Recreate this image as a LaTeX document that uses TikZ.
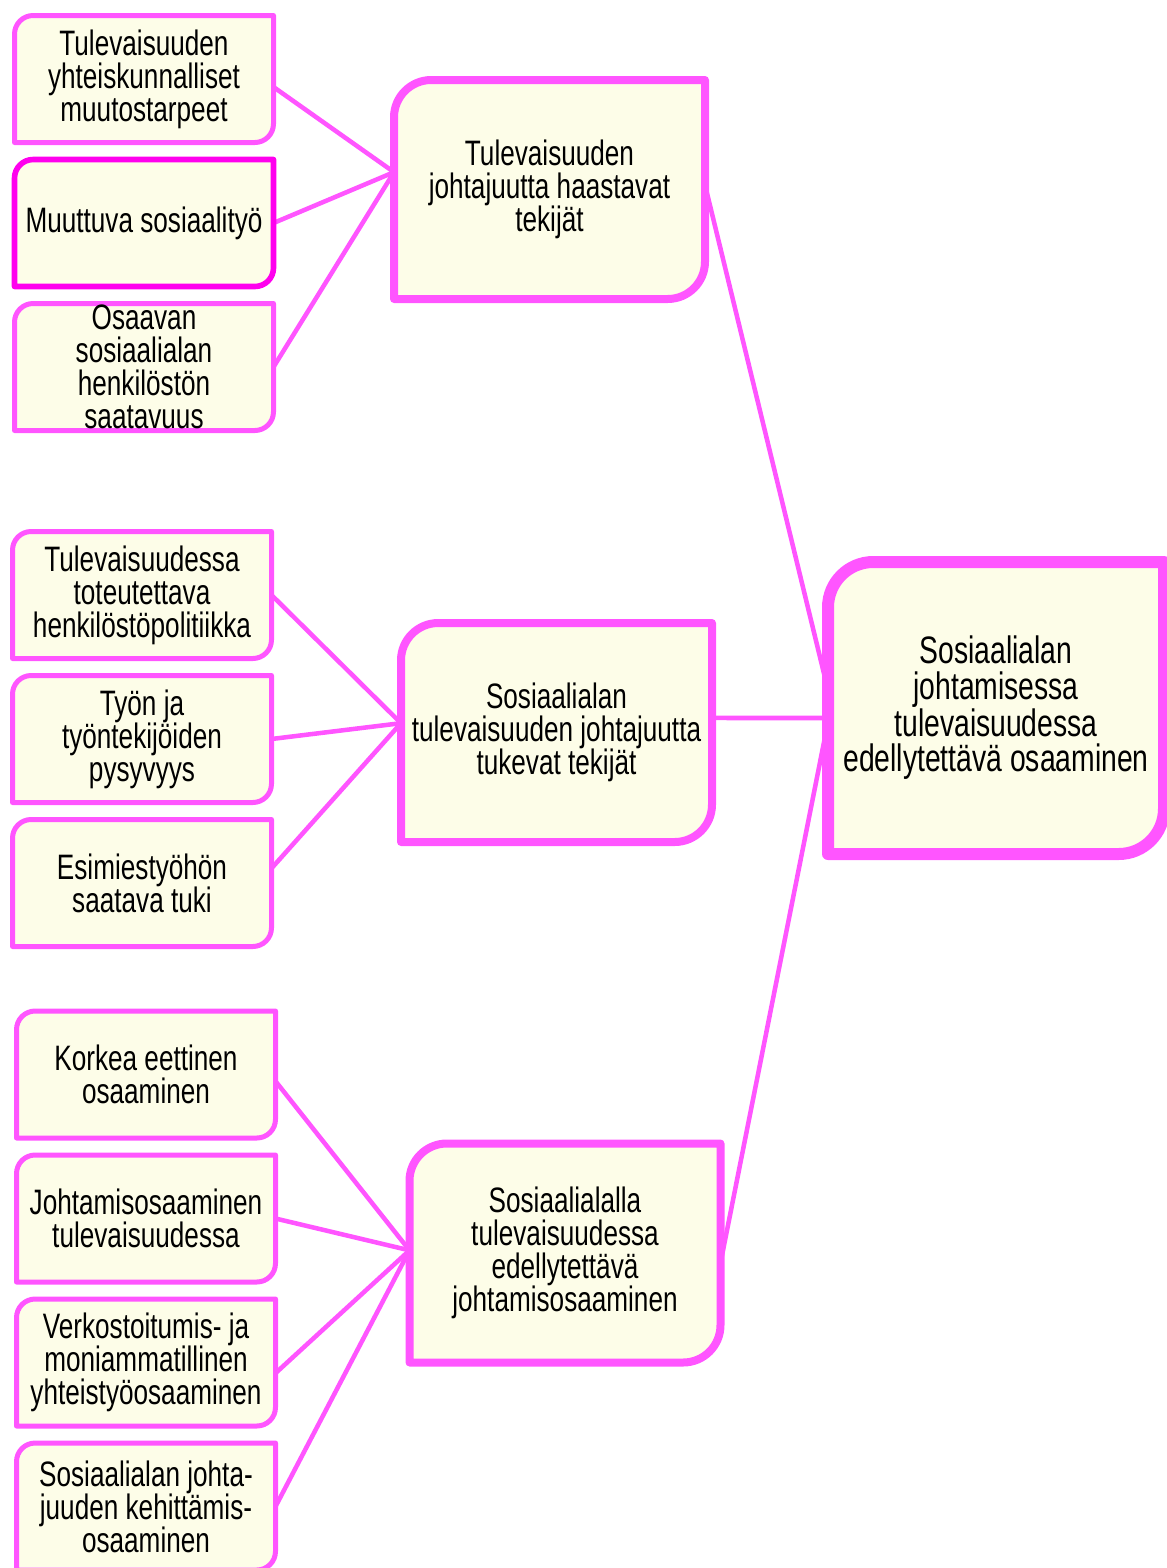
\documentclass[tikz,border=0pt]{standalone}
\usepackage{fontspec}
\setmainfont{Liberation Sans}[FakeStretch=0.74]
\usepackage{tikz}
\usetikzlibrary{positioning,backgrounds}

\definecolor{pinkline}{RGB}{255,85,255}
\definecolor{magline}{RGB}{255,0,238}
\definecolor{cream}{RGB}{253,253,232}

\begin{document}
\begin{tikzpicture}[x=0.75pt,y=-0.75pt,node distance=108pt,on grid,
  card/.style={minimum width=194.25pt,minimum height=95.25pt,inner sep=0pt,outer sep=0pt,
    align=center,font=\fontsize{26.5}{24.75}\selectfont},
  hub/.style={card,minimum width=233.25pt,minimum height=164.25pt},
  goal/.style={card,minimum width=252pt,minimum height=219pt,font=\fontsize{28.7}{26.6}\selectfont},
  link/.style={draw=pinkline,line width=3.4pt}]
  \useasboundingbox (0,0) rectangle (1167,1568);

  % ryhmä 1
  \node[card] (a1) at (144,79) {Tulevaisuuden\\yhteiskunnalliset\\muutostarpeet};
  \node[card] (a2) [below=of a1] {Muuttuva sosiaalityö};
  \node[card] (a3) [below=of a2] {Osaavan\\sosiaalialan\\henkilöstön\\saatavuus};
  \node[hub] (b) at (549.5,189.5) {Tulevaisuuden\\johtajuutta haastavat\\tekijät};

  % ryhmä 2
  \node[card] (c1) at (142,595) {Tulevaisuudessa\\toteutettava\\henkilöstöpolitiikka};
  \node[card] (c2) [below=of c1] {Työn ja\\työntekijöiden\\pysyvyys};
  \node[card] (c3) [below=of c2] {Esimiestyöhön\\saatava tuki};
  \node[hub] (d) at (556.5,732.5) {Sosiaalialan\\tulevaisuuden johtajuutta\\tukevat tekijät};

  % ryhmä 3
  \node[card] (e1) at (146,1074.5) {Korkea eettinen\\osaaminen};
  \node[card] (e2) [below=of e1] {Johtamisosaaminen\\tulevaisuudessa};
  \node[card] (e3) [below=of e2] {Verkostoitumis- ja\\moniammatillinen\\yhteistyöosaaminen};
  \node[card] (e4) [below=of e3] {Sosiaalialan johta-\\juuden kehittämis-\\osaaminen};
  \node[hub] (f) at (565,1253) {Sosiaalialalla\\tulevaisuudessa\\edellytettävä\\johtamisosaaminen};

  \node[goal] (g) at (996,708) {Sosiaalialan\\johtamisessa\\tulevaisuudessa\\edellytettävä osaaminen};

  \begin{scope}[on background layer]
    \path[link]
      ([yshift=-6pt]a1.east) edge ([yshift=13pt]b.west)
      (a2.east) edge ([yshift=13pt]b.west)
      (a3.east) edge ([yshift=13pt]b.west)
      (c1.east) edge ([yshift=7pt]d.west)
      (c2.east) edge ([yshift=7pt]d.west)
      ([yshift=11pt]c3.east) edge ([yshift=7pt]d.west)
      ([yshift=-5pt]e1.east) edge ([yshift=2pt]f.west)
      (e2.east) edge ([yshift=2pt]f.west)
      ([yshift=-8pt]e3.east) edge ([yshift=2pt]f.west)
      (e4.east) edge ([yshift=2pt]f.west)
      ([yshift=3.4pt]b.east) edge ([yshift=13.5pt]g.west)
      ([yshift=10.9pt]d.east) edge ([yshift=-7.5pt]g.west)
      ([yshift=-7.5pt]f.east) edge ([yshift=-10.5pt]g.west);
    \foreach \n/\r/\w/\c in {a1/14/3.75/pinkline,a2/14/4.2/magline,a3/14/3.75/pinkline,
        c1/14/3.75/pinkline,c2/14/3.75/pinkline,c3/14/3.75/pinkline,
        e1/14/3.75/pinkline,e2/14/3.75/pinkline,e3/14/3.75/pinkline,e4/14/3.75/pinkline,
        b/28/6/pinkline,d/28/6/pinkline,f/28/6/pinkline,g/34/9/pinkline}
      \draw[line width=\w pt,draw=\c,fill=cream,line join=round]
        (\n.west) [rounded corners=\r pt] |- (\n.north) [sharp corners] -| (\n.east)
        [rounded corners=\r pt] |- (\n.south) [sharp corners] -| (\n.west) -- cycle;
  \end{scope}
\end{tikzpicture}
\end{document}
